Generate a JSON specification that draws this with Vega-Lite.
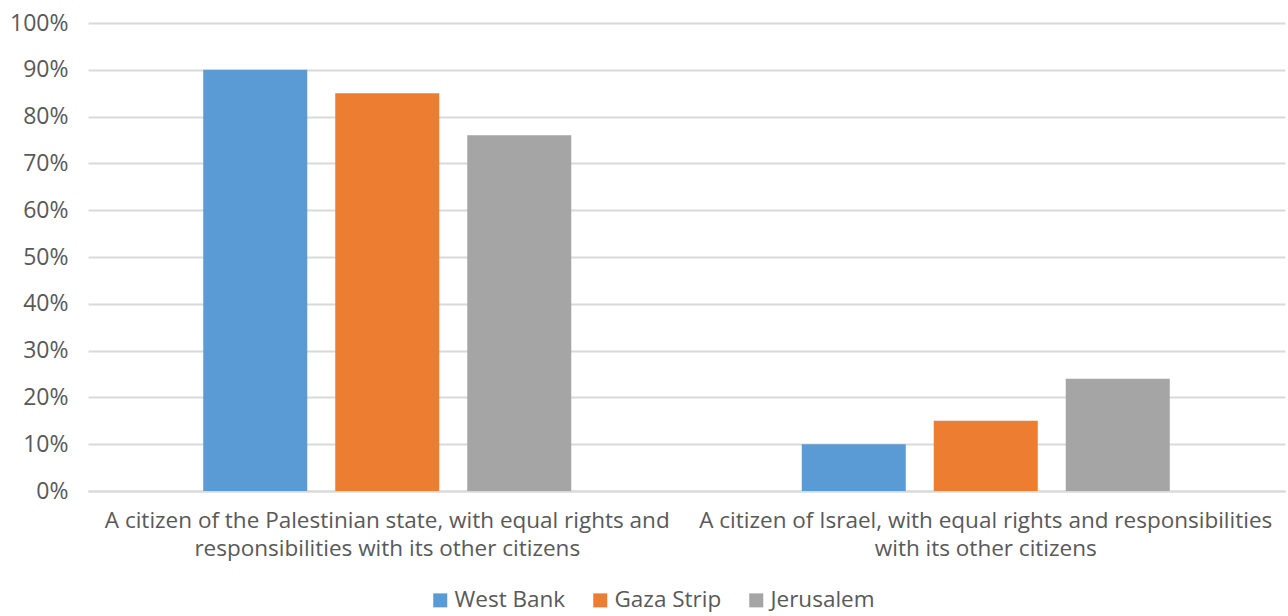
{
  "$schema": "https://vega.github.io/schema/vega-lite/v6.json",
  "width": 1197,
  "height": 468,
  "autosize": {"type": "none"},
  "padding": {"left": 88, "top": 23, "right": 3, "bottom": 125},
  "background": "white",
  "data": {
    "values": [
      {"category": "Palestinian", "region": "West Bank", "value": 0.90},
      {"category": "Palestinian", "region": "Gaza Strip", "value": 0.85},
      {"category": "Palestinian", "region": "Jerusalem", "value": 0.76},
      {"category": "Israel", "region": "West Bank", "value": 0.10},
      {"category": "Israel", "region": "Gaza Strip", "value": 0.15},
      {"category": "Israel", "region": "Jerusalem", "value": 0.24}
    ]
  },
  "config": {
    "view": {"stroke": null},
    "font": "Open Sans",
    "axis": {"labelFont": "Open Sans", "labelColor": "#595959"},
    "legend": {"labelFont": "Open Sans", "labelColor": "#595959"}
  },
  "mark": {"type": "bar"},
  "encoding": {
    "x": {
      "field": "category",
      "type": "nominal",
      "sort": ["Palestinian", "Israel"],
      "scale": {"paddingInner": 0, "paddingOuter": 0},
      "axis": {
        "title": null,
        "labelAngle": 0,
        "labelFontSize": 22.5,
        "labelLineHeight": 28,
        "labelPadding": 18,
        "labelBaseline": "top",
        "ticks": false,
        "domain": true,
        "domainColor": "#d9d9d9",
        "domainWidth": 2,
        "labelLimit": 700,
        "labelExpr": "datum.value == 'Palestinian' ? ['A citizen of the Palestinian state, with equal rights and', 'responsibilities with its other citizens'] : ['A citizen of Israel, with equal rights and responsibilities', 'with its other citizens']"
      }
    },
    "xOffset": {
      "field": "region",
      "type": "nominal",
      "sort": ["West Bank", "Gaza Strip", "Jerusalem"],
      "scale": {"paddingInner": 0.212, "paddingOuter": 0.873}
    },
    "y": {
      "field": "value",
      "type": "quantitative",
      "scale": {"domain": [0, 1], "nice": false},
      "axis": {
        "title": null,
        "format": ".0%",
        "values": [0, 0.1, 0.2, 0.3, 0.4, 0.5, 0.6, 0.7, 0.8, 0.9, 1.0],
        "labelFontSize": 23,
        "labelPadding": 20,
        "ticks": false,
        "domain": false,
        "grid": true,
        "gridColor": "#d9d9d9",
        "gridWidth": 2
      }
    },
    "color": {
      "field": "region",
      "type": "nominal",
      "sort": ["West Bank", "Gaza Strip", "Jerusalem"],
      "scale": {
        "domain": ["West Bank", "Gaza Strip", "Jerusalem"],
        "range": ["#5B9BD5", "#ED7D31", "#A5A5A5"]
      },
      "legend": {
        "title": null,
        "orient": "none",
        "direction": "horizontal",
        "legendX": 341,
        "legendY": 566,
        "symbolType": "square",
        "symbolSize": 196,
        "symbolStrokeWidth": 0,
        "labelFontSize": 22.5,
        "labelOffset": 3,
        "columnPadding": 23
      }
    }
  }
}
